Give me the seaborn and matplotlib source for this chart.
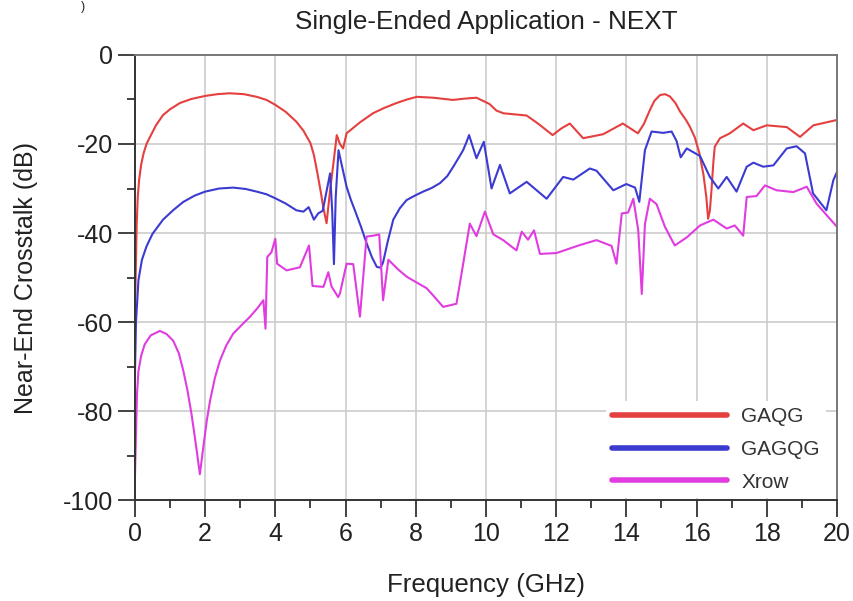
import pandas as pd
import matplotlib
matplotlib.use('Agg')
import matplotlib.pyplot as plt
import seaborn as sns

# %%
# Values (frequency in GHz, crosstalk in dB)
freq_gaqg = [0.0, 0.02, 0.05, 0.08, 0.12, 0.18, 0.25, 0.33, 0.43, 0.6, 0.8, 1.0, 1.28, 1.6,
             2.0, 2.35, 2.7, 3.1, 3.47, 3.75, 4.0, 4.3, 4.6, 4.8, 5.0, 5.1, 5.2, 5.3, 5.36,
             5.46, 5.56, 5.66, 5.75, 5.84, 5.93, 6.03, 6.2, 6.4, 6.6, 6.78, 7.1, 7.45, 7.75,
             8.03, 8.5, 9.06, 9.4, 9.73, 10.1, 10.3, 10.5, 11.16, 11.5, 11.9, 12.15, 12.39,
             12.77, 13.34, 13.9, 14.33, 14.5, 14.67, 14.8, 14.96, 15.1, 15.24, 15.4, 15.53,
             15.7, 15.81, 15.95, 16.08, 16.2, 16.28, 16.33, 16.38, 16.43, 16.48, 16.52,
             16.67, 16.95, 17.33, 17.62, 18.0, 18.57, 18.95, 19.33, 20.0]
next_gaqg = [-58, -50, -38, -32, -28, -24.5, -22, -20, -18.4, -15.8, -13.5, -12.2, -10.8,
             -9.9, -9.2, -8.8, -8.6, -8.8, -9.4, -10.1, -11.2, -12.8, -15.0, -17.0, -19.8,
             -22.5, -26.6, -31, -34, -37.8, -30.4, -24, -18, -20, -21, -17.6, -16.5, -15.2,
             -14.1, -13.1, -11.9, -10.8, -10, -9.4, -9.6, -10.1, -9.8, -9.6, -11, -12.5,
             -13.1, -13.6, -15.5, -18, -16.5, -15.4, -18.7, -17.8, -15.4, -17.6, -15.5,
             -12.4, -10.3, -9.0, -8.8, -9.3, -10.8, -12.7, -14.6, -16.1, -18.5, -22, -27,
             -32, -36.8, -35, -30, -24, -20.6, -18.7, -17.6, -15.4, -16.9, -15.8, -16.2,
             -18.4, -15.8, -14.6]

freq_gagqg = [0.0, 0.03, 0.1, 0.2, 0.33, 0.5, 0.8, 1.1, 1.38, 1.7, 2.0, 2.4, 2.8, 3.15,
              3.47, 3.75, 4.0, 4.3, 4.6, 4.8, 4.95, 5.1, 5.22, 5.35, 5.45, 5.56, 5.62, 5.67,
              5.72, 5.8, 5.9, 6.03, 6.15, 6.3, 6.45, 6.6, 6.75, 6.89, 7.0, 7.07, 7.2, 7.36,
              7.55, 7.74, 8.0, 8.21, 8.45, 8.69, 8.9, 9.07, 9.2, 9.35, 9.45, 9.52, 9.73,
              9.94, 10.16, 10.4, 10.68, 11.16, 11.73, 12.2, 12.49, 12.96, 13.15, 13.63,
              14.0, 14.25, 14.37, 14.53, 14.72, 15.05, 15.29, 15.43, 15.55, 15.72, 16.1,
              16.38, 16.62, 16.86, 17.14, 17.43, 17.62, 17.9, 18.19, 18.57, 18.85, 19.09,
              19.32, 19.7, 19.9, 20.0]
next_gagqg = [-72, -60, -50.6, -46, -43, -40.2, -37, -34.8, -33, -31.6, -30.7, -30, -29.8,
              -30.1, -30.7, -31.3, -32.2, -33.4, -34.9, -35.2, -34.2, -37, -35.6, -35, -31,
              -26.6, -35, -47, -32, -21.4, -25, -29.6, -32.5, -35.6, -38.8, -42.3, -45.4,
              -47.6, -47.8, -46.6, -42, -37, -34.4, -32.6, -31.5, -30.7, -29.9, -28.8,
              -27.2, -25.1, -23.4, -21.4, -19.5, -18, -23.2, -19.5, -30, -24.7, -31.1,
              -28.5, -32.3, -27.4, -28, -25.5, -26, -30.4, -29, -29.8, -33, -21.4, -17.2,
              -17.5, -17.2, -19.3, -23, -21, -22.7, -27.4, -30, -27.4, -30.7, -25.1, -24.2,
              -25.1, -24.8, -21, -20.5, -22.1, -31.1, -34.9, -28.1, -26.3]

freq_xrow = [0.0, 0.03, 0.06, 0.1, 0.18, 0.28, 0.45, 0.71, 0.9, 1.09, 1.25, 1.38, 1.5, 1.61,
             1.7, 1.76, 1.85, 1.95, 2.05, 2.14, 2.28, 2.42, 2.6, 2.8, 3.05, 3.28, 3.5, 3.66,
             3.72, 3.77, 3.89, 4.0, 4.05, 4.32, 4.7, 4.96, 5.06, 5.37, 5.51, 5.6, 5.79, 5.84,
             6.03, 6.22, 6.41, 6.6, 6.79, 6.96, 7.07, 7.22, 7.5, 7.74, 8.0, 8.31, 8.55, 8.78,
             9.16, 9.35, 9.54, 9.73, 9.97, 10.21, 10.49, 10.87, 11.02, 11.2, 11.37, 11.54,
             12.01, 12.68, 13.15, 13.58, 13.72, 13.87, 14.05, 14.2, 14.34, 14.44, 14.53,
             14.67, 14.86, 15.1, 15.38, 15.72, 16.1, 16.48, 16.86, 17.09, 17.33, 17.43,
             17.71, 17.95, 18.28, 18.76, 19.14, 19.42, 20.0]
next_xrow = [-95, -85, -76, -71, -67.5, -65, -63, -62, -62.7, -64.2, -67, -71, -75.5, -80.6,
             -85.5, -88.9, -94.2, -88, -82, -77.7, -72.5, -68.7, -65.3, -62.6, -60.6, -58.8,
             -56.8, -55.1, -61.5, -45.4, -44.3, -41.3, -46.9, -48.4, -47.7, -42.8, -51.9,
             -52.1, -48.8, -52, -54.4, -53.6, -46.9, -47, -58.8, -40.8, -40.6, -40.3, -55.1,
             -46, -48.2, -49.8, -51, -52.4, -54.5, -56.6, -55.9, -47, -37.9, -40.7, -35.2,
             -40.3, -41.6, -43.9, -39.7, -41.5, -39.4, -44.7, -44.5, -42.7, -41.6, -42.9,
             -46.9, -35.6, -35.4, -32.3, -39.4, -53.7, -38, -32.3, -33.5, -38.6, -42.8, -41,
             -38.3, -37, -39, -38.3, -40.6, -31.9, -31.7, -29.3, -30.4, -30.8, -29.6, -33.4,
             -38.6]

series_names = ['GAQG', 'GAGQG', 'Xrow']
series_colors = ['#e4403f', '#3b3bd2', '#e03ce0']

# %%
df = pd.concat([
    pd.DataFrame({'freq': freq_gaqg, 'next': next_gaqg, 'design': 'GAQG'}),
    pd.DataFrame({'freq': freq_gagqg, 'next': next_gagqg, 'design': 'GAGQG'}),
    pd.DataFrame({'freq': freq_xrow, 'next': next_xrow, 'design': 'Xrow'}),
], ignore_index=True)

# %%
sns.set_theme(style='whitegrid')
plt.rcParams['font.family'] = ['Liberation Sans', 'DejaVu Sans']
plt.rcParams['axes.unicode_minus'] = False

fig = plt.figure(figsize=(8.54, 6.01), dpi=100)
ax = fig.add_axes([0.158, 0.168, 0.822, 0.7405])

sns.lineplot(data=df, x='freq', y='next', hue='design', hue_order=series_names,
             palette=series_colors, estimator=None, sort=False, linewidth=1.5, ax=ax)

ax.set_xlim(0, 20)
ax.set_ylim(-100, 0)
ax.set_xticks(range(0, 21, 2))
ax.set_xticks(range(1, 20, 2), minor=True)
ax.set_yticks(range(-100, 1, 20))
ax.set_yticks(range(-90, 0, 20), minor=True)

ax.grid(True, which='major', color='#cccccc', linewidth=1.2)
ax.grid(False, which='minor')
ax.tick_params(which='major', direction='out', length=12.5, width=1.3, color='#333333',
               labelsize=18, labelcolor='#222222', pad=3, bottom=True, left=True)
ax.tick_params(which='minor', direction='out', length=6, width=1.3, color='#333333',
               bottom=True, left=True)

for side in ['left', 'bottom']:
    ax.spines[side].set_color('#333333')
    ax.spines[side].set_linewidth(1.4)
for side in ['top', 'right']:
    ax.spines[side].set_color('#777777')
    ax.spines[side].set_linewidth(1.4)

ax.set_title('Single-Ended Application - NEXT', fontsize=18.8, color='#222222', pad=19)
ax.set_xlabel('Frequency (GHz)', fontsize=18.6, color='#222222', labelpad=19.5)
ax.set_ylabel('Near-End Crosstalk (dB)', fontsize=18, color='#222222', labelpad=18)

leg = ax.legend(loc='upper left', bbox_to_anchor=(0.671, 0.222), fontsize=15,
                frameon=True, facecolor='white', edgecolor='none', framealpha=1,
                handlelength=5.5, handletextpad=0.7, labelspacing=0.65,
                borderpad=0.3, borderaxespad=0, fancybox=False)
for line in leg.get_lines():
    line.set_linewidth(4)
for txt in leg.get_texts():
    txt.set_color('#333333')

# fragment of a glyph at the top left of the source picture
fig.text(0.097, 0.999, ')', fontsize=9, color='#222222', ha='center', va='top')

fig.savefig('out.png', dpi=100)
